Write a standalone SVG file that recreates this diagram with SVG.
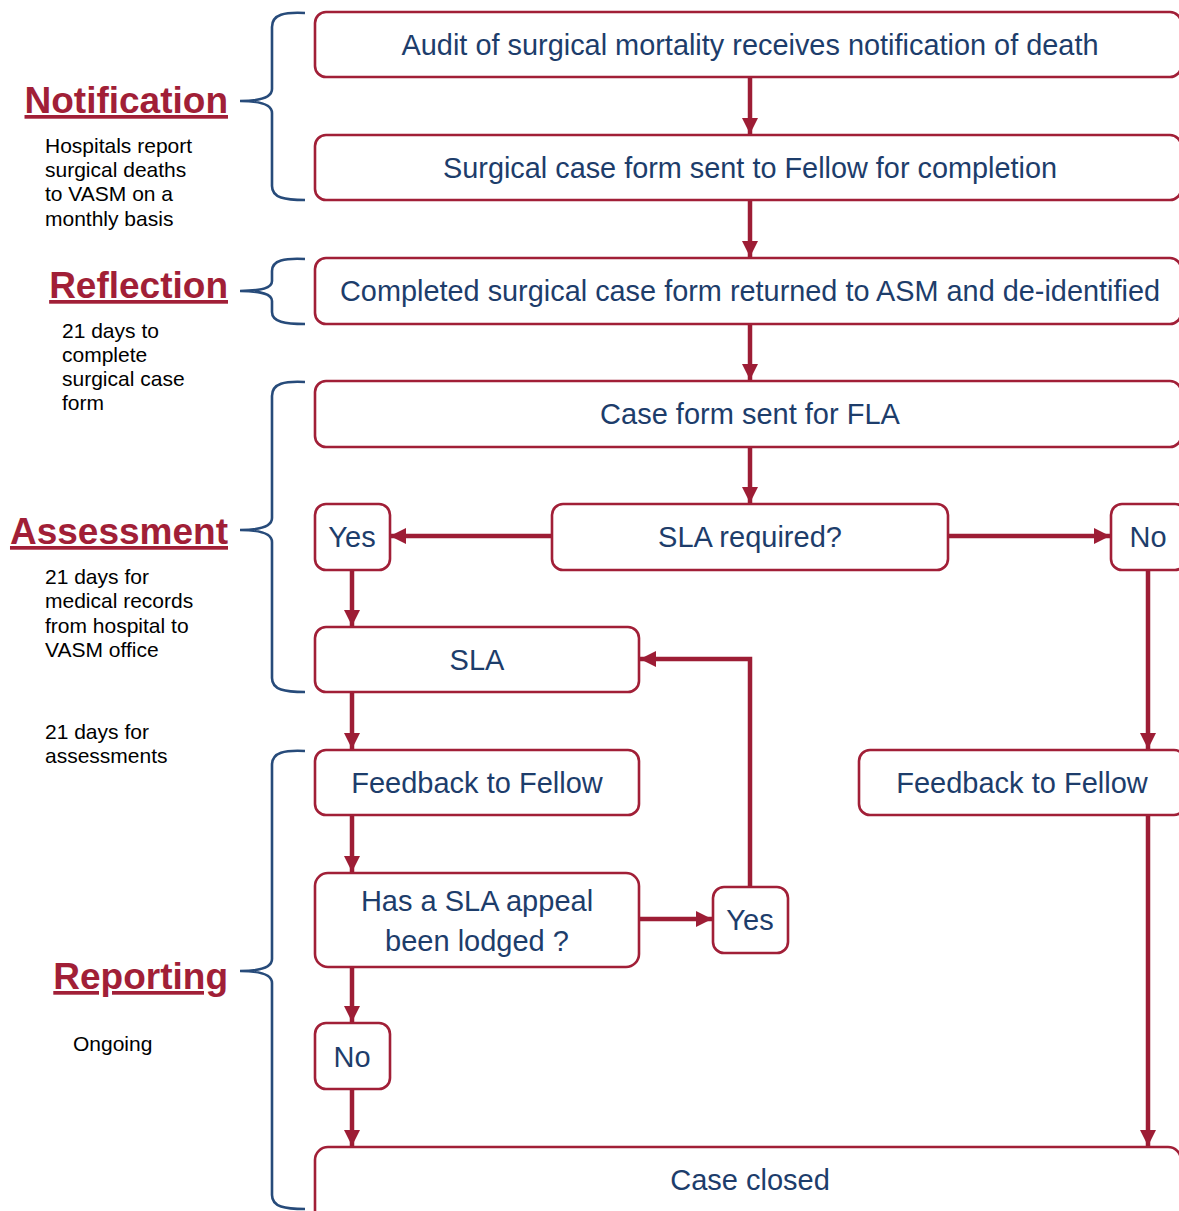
<svg xmlns="http://www.w3.org/2000/svg" width="1179" height="1211" viewBox="0 0 1179 1211">
<style>
.box{fill:#fff;stroke:#a11f37;stroke-width:2.6}
.nt{font-family:"Liberation Sans",Arial,sans-serif;font-size:29px;fill:#1d3d6b;text-anchor:middle}
.conn{fill:none;stroke:#9d1d35;stroke-width:4.5}
.brace{fill:none;stroke:#274b7a;stroke-width:2.6}
.title{font-family:"Liberation Sans",Arial,sans-serif;font-size:37px;font-weight:bold;fill:#a11f37;text-anchor:end;text-decoration:underline}
.note{font-family:"Liberation Sans",Arial,sans-serif;font-size:21px;fill:#000}
</style>
<defs>
<marker id="ah" markerUnits="userSpaceOnUse" markerWidth="17" markerHeight="17" refX="16" refY="8" orient="auto">
<path d="M0,0 L16,8 L0,16 z" fill="#9d1d35"/>
</marker>
</defs>
<rect width="1179" height="1211" fill="#fff"/>

<g id="phase-labels">
<g id="notification-label">
<text class="title" x="228" y="113">Notification</text>
<text class="note"><tspan x="45" y="153">Hospitals report</tspan><tspan x="45" y="177">surgical deaths</tspan><tspan x="45" y="201">to VASM on a</tspan><tspan x="45" y="226">monthly basis</tspan></text>
<path class="brace" d="M305,13 C285,12 272,14 272,27 L272,89 C272,97 262,101 240,101 M240,101 C262,101 272,105 272,113 L272,186 C272,198 285,200 305,200"/>
</g>
<g id="reflection-label">
<text class="title" x="228" y="298">Reflection</text>
<text class="note"><tspan x="62" y="338">21 days to</tspan><tspan x="62" y="362">complete</tspan><tspan x="62" y="386">surgical case</tspan><tspan x="62" y="410">form</tspan></text>
<path class="brace" d="M305,259 C285,258 272,260 272,271 L272,281 C272,288 262,291 240,291 M240,291 C262,291 272,294 272,301 L272,312 C272,322 285,324 305,324"/>
</g>
<g id="assessment-label">
<text class="title" x="228" y="544">Assessment</text>
<text class="note"><tspan x="45" y="584">21 days for</tspan><tspan x="45" y="608">medical records</tspan><tspan x="45" y="633">from hospital to</tspan><tspan x="45" y="657">VASM office</tspan></text>
<text class="note"><tspan x="45" y="739">21 days for</tspan><tspan x="45" y="763">assessments</tspan></text>
<path class="brace" d="M305,382 C285,381 272,383 272,396 L272,518 C272,526 262,530 240,530 M240,530 C262,530 272,534 272,542 L272,678 C272,690 285,692 305,692"/>
</g>
<g id="reporting-label">
<text class="title" x="228" y="989">Reporting</text>
<text class="note" x="73" y="1051">Ongoing</text>
<path class="brace" d="M305,751 C285,750 272,752 272,765 L272,959 C272,967 262,971 240,971 M240,971 C262,971 272,975 272,983 L272,1195 C272,1207 285,1209 305,1209"/>
</g>
</g>

<g id="connectors">
<line class="conn" x1="750" y1="77" x2="750" y2="134" marker-end="url(#ah)"/>
<line class="conn" x1="750" y1="200" x2="750" y2="257" marker-end="url(#ah)"/>
<line class="conn" x1="750" y1="324" x2="750" y2="380" marker-end="url(#ah)"/>
<line class="conn" x1="750" y1="447" x2="750" y2="503" marker-end="url(#ah)"/>
<line class="conn" x1="552" y1="536" x2="390" y2="536" marker-end="url(#ah)"/>
<line class="conn" x1="948" y1="536" x2="1110" y2="536" marker-end="url(#ah)"/>
<line class="conn" x1="352" y1="570" x2="352" y2="626" marker-end="url(#ah)"/>
<line class="conn" x1="1148" y1="570" x2="1148" y2="749" marker-end="url(#ah)"/>
<line class="conn" x1="352" y1="692" x2="352" y2="749" marker-end="url(#ah)"/>
<line class="conn" x1="352" y1="815" x2="352" y2="872" marker-end="url(#ah)"/>
<line class="conn" x1="639" y1="919" x2="712" y2="919" marker-end="url(#ah)"/>
<polyline class="conn" points="750,887 750,659 640,659" marker-end="url(#ah)"/>
<line class="conn" x1="352" y1="967" x2="352" y2="1022" marker-end="url(#ah)"/>
<line class="conn" x1="352" y1="1089" x2="352" y2="1146" marker-end="url(#ah)"/>
<line class="conn" x1="1148" y1="815" x2="1148" y2="1146" marker-end="url(#ah)"/>
</g>

<g id="n-audit"><rect class="box" x="315" y="12" width="866" height="65" rx="11"/><text class="nt" x="750" y="55" textLength="697" lengthAdjust="spacingAndGlyphs">Audit of surgical mortality receives notification of death</text></g>
<g id="n-form-sent"><rect class="box" x="315" y="135" width="866" height="65" rx="11"/><text class="nt" x="750" y="178" textLength="614" lengthAdjust="spacingAndGlyphs">Surgical case form sent to Fellow for completion</text></g>
<g id="n-completed"><rect class="box" x="315" y="258" width="866" height="66" rx="11"/><text class="nt" x="750" y="301" textLength="820" lengthAdjust="spacingAndGlyphs">Completed surgical case form returned to ASM and de-identified</text></g>
<g id="n-fla"><rect class="box" x="315" y="381" width="866" height="66" rx="11"/><text class="nt" x="750" y="424">Case form sent for FLA</text></g>
<g id="n-sla-required"><rect class="box" x="552" y="504" width="396" height="66" rx="11"/><text class="nt" x="750" y="547">SLA required?</text></g>
<g id="n-yes1"><rect class="box" x="315" y="504" width="75" height="66" rx="11"/><text class="nt" x="352" y="547">Yes</text></g>
<g id="n-no1"><rect class="box" x="1111" y="504" width="75" height="66" rx="11"/><text class="nt" x="1148" y="547">No</text></g>
<g id="n-sla"><rect class="box" x="315" y="627" width="324" height="65" rx="11"/><text class="nt" x="477" y="670">SLA</text></g>
<g id="n-feedback-left"><rect class="box" x="315" y="750" width="324" height="65" rx="11"/><text class="nt" x="477" y="793">Feedback to Fellow</text></g>
<g id="n-feedback-right"><rect class="box" x="859" y="750" width="326" height="65" rx="11"/><text class="nt" x="1022" y="793">Feedback to Fellow</text></g>
<g id="n-appeal"><rect class="box" x="315" y="873" width="324" height="94" rx="13"/><text class="nt"><tspan x="477" y="911">Has a SLA appeal</tspan><tspan x="477" y="951">been lodged ?</tspan></text></g>
<g id="n-yes2"><rect class="box" x="713" y="887" width="75" height="66" rx="11"/><text class="nt" x="750" y="930">Yes</text></g>
<g id="n-no2"><rect class="box" x="315" y="1023" width="75" height="66" rx="11"/><text class="nt" x="352" y="1067">No</text></g>
<g id="n-closed"><rect class="box" x="315" y="1147" width="866" height="80" rx="13"/><text class="nt" x="750" y="1190">Case closed</text></g>
</svg>
